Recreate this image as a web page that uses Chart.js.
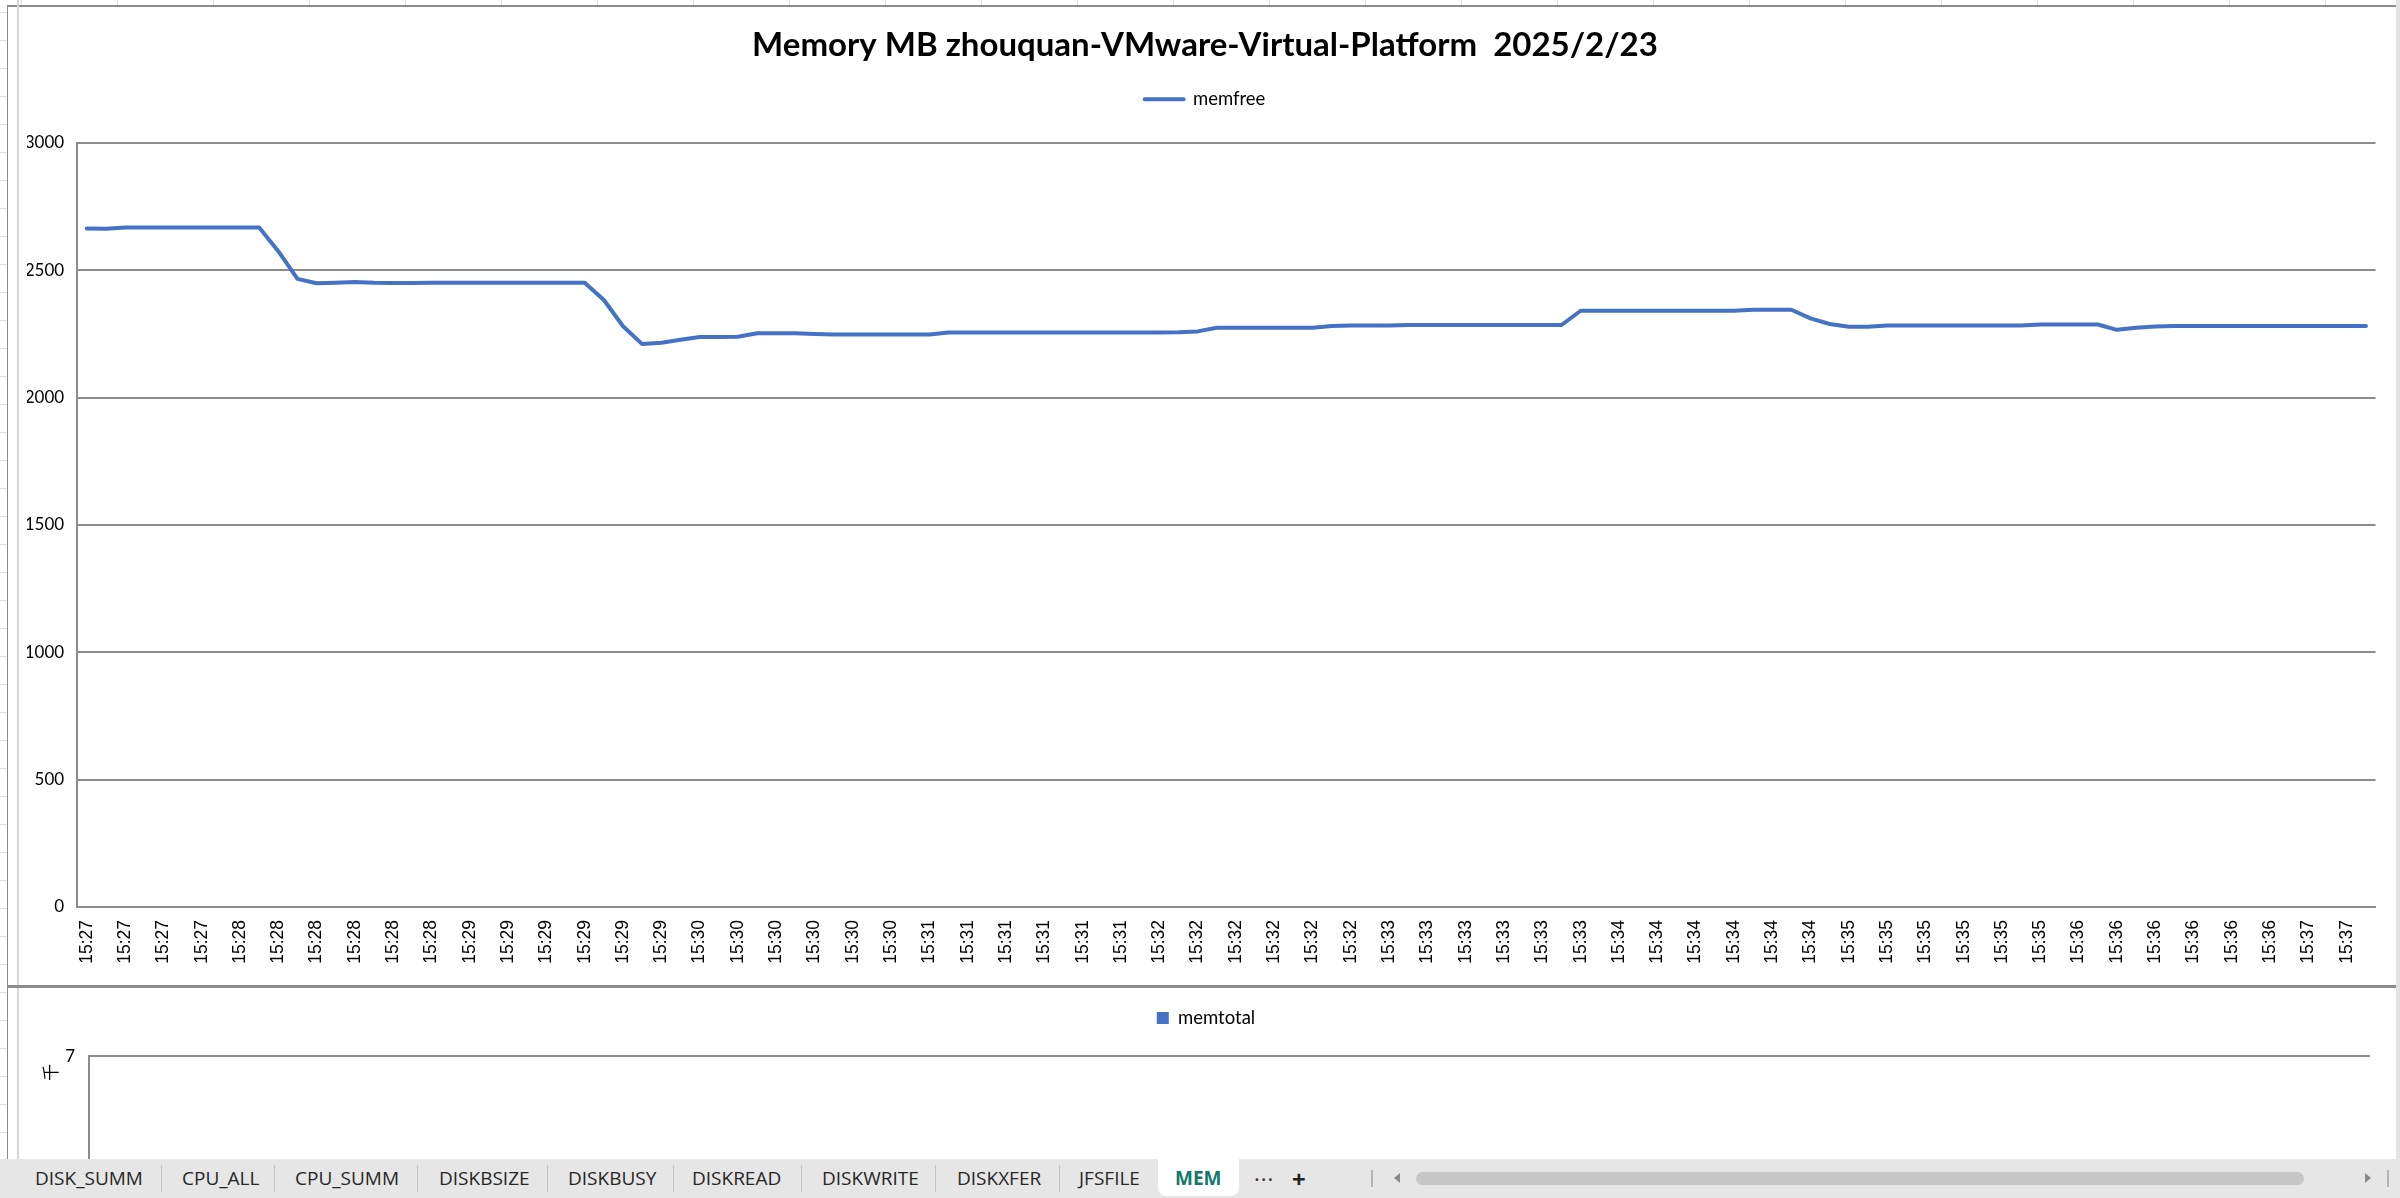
<!DOCTYPE html>
<html><head><meta charset="utf-8">
<script src="https://cdn.jsdelivr.net/npm/chart.js@4.4.1/dist/chart.umd.min.js"></script>
<style>
html,body{margin:0;padding:0;}
body{width:2400px;height:1198px;overflow:hidden;position:relative;background:#fff;}
.abs{position:absolute;}
#sheet{position:absolute;left:0;top:0;width:2400px;height:1159px;z-index:0;}
.chartbg{position:absolute;background:#fff;z-index:1;}
canvas{position:absolute;z-index:2;}
.frame{position:absolute;z-index:3;}
#tabs{position:absolute;left:0;top:1159px;width:2400px;height:39px;background:#e6e6e6;z-index:5;}
.tab{position:absolute;top:0;height:39px;line-height:39px;font-family:'Open Sans',sans-serif;font-size:19px;color:#262626;white-space:nowrap;}
.sep{position:absolute;top:6px;width:1px;height:27px;background:#c4c4c4;}
</style></head><body>
<div id="sheet"></div>
<div class="chartbg" style="left:8px;top:7px;width:2388px;height:978px;"></div>
<div class="chartbg" style="left:8px;top:988px;width:2388px;height:171px;"></div>
<canvas id="c1" width="2400" height="986" style="left:0;top:0;"></canvas>
<canvas id="c2" width="2400" height="900" style="left:0;top:988px;"></canvas>

<div class="frame" style="left:7px;top:5px;width:2389px;height:2px;background:#8c8c8c;"></div>
<div class="frame" style="left:7px;top:5px;width:1px;height:1154px;background:#8a8a8a;"></div>
<div class="frame" style="left:17px;top:0;width:2px;height:1159px;background:#d6d6d6;"></div>
<div class="frame" style="left:7px;top:985px;width:2389px;height:3px;background:#8c8c8c;"></div>
<div class="frame" style="left:2396px;top:0;width:4px;height:1159px;background:#e3e3e3;"></div>

<div id="tabs">
  <div class="tab" style="left:35px;">DISK_SUMM</div>
  <div class="sep" style="left:161px;"></div>
  <div class="tab" style="left:182px;">CPU_ALL</div>
  <div class="sep" style="left:274px;"></div>
  <div class="tab" style="left:295px;">CPU_SUMM</div>
  <div class="sep" style="left:417px;"></div>
  <div class="tab" style="left:439px;">DISKBSIZE</div>
  <div class="sep" style="left:547px;"></div>
  <div class="tab" style="left:568px;">DISKBUSY</div>
  <div class="sep" style="left:673px;"></div>
  <div class="tab" style="left:692px;">DISKREAD</div>
  <div class="sep" style="left:801px;"></div>
  <div class="tab" style="left:822px;">DISKWRITE</div>
  <div class="sep" style="left:935px;"></div>
  <div class="tab" style="left:957px;">DISKXFER</div>
  <div class="sep" style="left:1059px;"></div>
  <div class="tab" style="left:1079px;">JFSFILE</div>
  <div class="abs" style="left:1158px;top:0;width:81px;height:37px;background:#fff;border-radius:0 0 8px 8px;"></div>
  <div class="tab" style="left:1175px;font-weight:bold;color:#117a68;">MEM</div>
  <div class="tab" style="left:1254px;color:#333;font-size:22px;letter-spacing:1px;">&middot;&middot;&middot;</div>
  <div class="tab" style="left:1292px;font-weight:bold;font-size:24px;color:#222;">+</div>
  <div class="abs" style="left:1371px;top:11px;width:2px;height:17px;background:#b4b4b4;"></div>
  <div class="abs" style="left:1394px;top:14px;width:0;height:0;border-top:5px solid transparent;border-bottom:5px solid transparent;border-right:6px solid #8a8a8a;"></div>
  <div class="abs" style="left:1416px;top:13px;width:888px;height:13px;background:#c6c6c6;border-radius:7px;"></div>
  <div class="abs" style="left:2365px;top:14px;width:0;height:0;border-top:5px solid transparent;border-bottom:5px solid transparent;border-left:6px solid #8a8a8a;"></div>
  <div class="abs" style="left:2387px;top:11px;width:2px;height:17px;background:#b4b4b4;"></div>
</div>

<script>
// ---------------- data ----------------
const chartTitle = 'Memory MB zhouquan-VMware-Virtual-Platform  2025/2/23';

const timeLabels = [
  '15:27','15:27','15:27','15:27','15:27','15:27','15:27','15:27',
  '15:28','15:28','15:28','15:28','15:28','15:28','15:28','15:28','15:28','15:28','15:28','15:28',
  '15:29','15:29','15:29','15:29','15:29','15:29','15:29','15:29','15:29','15:29','15:29','15:29',
  '15:30','15:30','15:30','15:30','15:30','15:30','15:30','15:30','15:30','15:30','15:30','15:30',
  '15:31','15:31','15:31','15:31','15:31','15:31','15:31','15:31','15:31','15:31','15:31','15:31',
  '15:32','15:32','15:32','15:32','15:32','15:32','15:32','15:32','15:32','15:32','15:32','15:32',
  '15:33','15:33','15:33','15:33','15:33','15:33','15:33','15:33','15:33','15:33','15:33','15:33',
  '15:34','15:34','15:34','15:34','15:34','15:34','15:34','15:34','15:34','15:34','15:34','15:34',
  '15:35','15:35','15:35','15:35','15:35','15:35','15:35','15:35','15:35','15:35','15:35','15:35',
  '15:36','15:36','15:36','15:36','15:36','15:36','15:36','15:36','15:36','15:36','15:36','15:36',
  '15:37','15:37','15:37','15:37'
];

const memfreeValues = [
  2664,2663,2668,2668,2668,2668,2668,2668,2668,2668,
  2575,2466,2449,2451,2454,2451,2450,2450,2451,2451,
  2451,2451,2451,2451,2451,2451,2451,2383,2280,2210,
  2215,2227,2238,2238,2239,2253,2253,2253,2250,2248,
  2248,2248,2248,2248,2248,2256,2256,2256,2256,2256,
  2256,2256,2256,2256,2256,2256,2256,2257,2260,2274,
  2274,2274,2274,2274,2274,2281,2283,2283,2283,2285,
  2285,2285,2285,2285,2285,2285,2285,2285,2341,2341,
  2341,2341,2341,2341,2341,2341,2341,2345,2345,2345,
  2311,2289,2278,2278,2283,2283,2283,2283,2283,2283,
  2283,2283,2287,2287,2287,2287,2266,2274,2279,2281,
  2281,2281,2281,2281,2281,2281,2281,2281,2281,2281
];

const memTicks = [0, 500, 1000, 1500, 2000, 2500, 3000];

// memtotal chart: only its top edge is visible in the picture, no bars can be read
const memtotalValues = [];
const memtotalTicks = [0, 1, 2, 3, 4, 5, 6, 7];
const memtotalUnit = '千';

// ---------------- style ----------------
const BLUE = '#4472C4';
const GRID = '#8c8c8c';

// sheet cell gridlines (decoration)
(function(){
  const sheet = document.getElementById('sheet');
  for (let x = 20.7; x < 2400; x += 96) {
    const d = document.createElement('div');
    d.style.cssText = 'position:absolute;top:0;left:' + x + 'px;width:1px;height:5px;background:#dedede;';
    sheet.appendChild(d);
  }
  for (let y = 12; y < 1159; y += 28) {
    const d = document.createElement('div');
    d.style.cssText = 'position:absolute;left:0;top:' + y + 'px;width:7px;height:1px;background:#dedede;';
    sheet.appendChild(d);
  }
})();

const plainNumber = function(v) { return String(v); };

new Chart(document.getElementById('c1'), {
  type: 'line',
  data: {
    labels: timeLabels,
    datasets: [{
      label: 'memfree',
      data: memfreeValues,
      borderColor: BLUE,
      backgroundColor: BLUE,
      borderWidth: 4,
      pointRadius: 0,
      tension: 0,
      fill: false,
      borderJoinStyle: 'round',
      borderCapStyle: 'round'
    }]
  },
  options: {
    responsive: false,
    animation: false,
    events: [],
    layout: { padding: { left: 27, right: 17, top: 0, bottom: 0 } },
    plugins: {
      title: {
        display: true, text: chartTitle, color: '#000',
        font: { family: 'Lato', size: 33, weight: 'bold', lineHeight: 1.2 },
        padding: { top: 25.2, bottom: 15.15 }
      },
      legend: {
        display: true,
        labels: { boxWidth: 39, boxHeight: 0, color: '#000', font: { family: 'Lato', size: 18.5 }, padding: 10 }
      },
      subtitle: {
        display: true, text: '', weight: 500,
        font: { size: 1, lineHeight: 1 }, padding: { top: 23.45, bottom: 0 }
      },
      tooltip: { enabled: false }
    },
    scales: {
      x: {
        offset: true,
        grid: { display: false, drawTicks: false },
        border: { display: true, color: GRID, width: 2 },
        ticks: {
          autoSkip: false, minRotation: 90, maxRotation: 90,
          color: '#000', font: { family: 'Liberation Sans', size: 17.5 }, padding: 13,
          callback: function(v, i) { return i % 2 === 0 ? this.getLabelForValue(v) : ''; }
        },
        afterFit: function(s) { s.height = 79; }
      },
      y: {
        min: memTicks[0], max: memTicks[memTicks.length - 1],
        ticks: { stepSize: memTicks[1] - memTicks[0], color: '#000', font: { family: 'Lato', size: 17 }, padding: 13, callback: plainNumber },
        grid: { color: GRID, lineWidth: 2, drawTicks: false },
        border: { display: true, color: GRID, width: 2 },
        afterFit: function(s) { s.width = 50.2; }
      }
    }
  }
});

new Chart(document.getElementById('c2'), {
  type: 'bar',
  data: {
    labels: timeLabels,
    datasets: [{ label: 'memtotal', data: memtotalValues, backgroundColor: BLUE, borderWidth: 0 }]
  },
  options: {
    responsive: false,
    animation: false,
    events: [],
    layout: { padding: { left: 42, right: 30, top: 0, bottom: 0 } },
    plugins: {
      title: { display: false },
      legend: {
        display: true,
        labels: { boxWidth: 12, boxHeight: 12, color: '#000', font: { family: 'Lato', size: 18.5 }, padding: 20.75 }
      },
      subtitle: {
        display: true, text: '', weight: 500,
        font: { size: 1, lineHeight: 1 }, padding: { top: 18, bottom: 0 }
      },
      tooltip: { enabled: false }
    },
    scales: {
      x: { display: false },
      y: {
        min: memtotalTicks[0], max: memtotalTicks[memtotalTicks.length - 1],
        ticks: { stepSize: 1, color: '#000', font: { family: 'Lato', size: 17 }, padding: 14, callback: plainNumber },
        grid: { color: GRID, lineWidth: 2, drawTicks: false },
        border: { display: true, color: GRID, width: 2 },
        title: {
          display: true, text: memtotalUnit + '  ', align: 'end', color: '#000',
          font: { family: 'Noto Sans CJK SC', size: 17, lineHeight: 1 }, padding: { top: 0, bottom: 0 }
        },
        afterFit: function(s) { s.width = 47; }
      }
    }
  }
});
</script>
</body></html>
